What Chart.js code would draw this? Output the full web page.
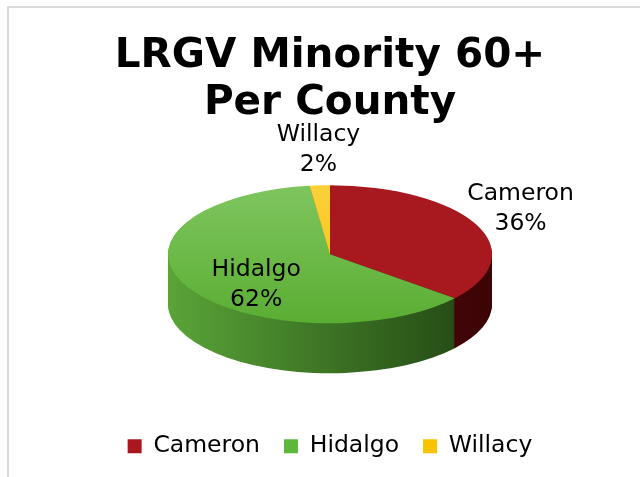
<!DOCTYPE html>
<html>
<head>
<meta charset="utf-8">
<script src="https://cdn.jsdelivr.net/npm/chart.js@4/dist/chart.umd.min.js"></script>
<style>
    html, body { margin: 0; padding: 0; background: #fff; overflow: hidden; }
    #frame {
        position: absolute; left: 7px; top: 6px; width: 640px; height: 480px;
        border-left: 2px solid #d9d9d9; border-top: 2px solid #d9d9d9;
    }
    #chartPie { position: absolute; left: 0; top: 0; }
</style>
</head>
<body>
<div id="frame"></div>
<canvas id="chartPie" width="640" height="477"></canvas>
<script>
// Data
const counties = ["Cameron", "Hidalgo", "Willacy"];
const shares = [36, 62, 2];

// Colors: top face, side wall, legend swatch
const topColors = [["#bb4649", "#a8191f"], ["#7fc55f", "#5aae33"], ["#fcd03a", "#f5c010"]];
const sideColors = [["#6c1013", "#3c0406"], ["#5aa437", "#1f4212"], ["#c99a08", "#8a6a02"]];
const legendColors = ["#a8181e", "#5cb83b", "#f8c300"];

// Flattened pie with an extruded wall underneath
const pie3d = {
    id: "pie3d",
    beforeDatasetsDraw(chart, args, opts) {
        const ctx = chart.ctx;
        const arcs = chart.getDatasetMeta(0).data;
        const { x, y, outerRadius: r } = arcs[0];
        const ty = y - opts.depth / 2;

        ctx.save();
        for (let d = opts.depth; d > 0; d--) {
            ctx.save();
            ctx.translate(x, ty + d);
            ctx.scale(1, opts.tilt);
            ctx.translate(-x, -y);
            arcs.forEach((arc, i) => {
                const g = ctx.createLinearGradient(x - r, 0, x + r, 0);
                g.addColorStop(0, sideColors[i][0]);
                g.addColorStop(1, sideColors[i][1]);
                ctx.beginPath();
                ctx.moveTo(x, y);
                ctx.arc(x, y, r, arc.startAngle, arc.endAngle);
                ctx.closePath();
                ctx.fillStyle = g;
                ctx.fill();
            });
            ctx.restore();
        }
        // top face is drawn by Chart.js inside this transform
        ctx.translate(x, ty);
        ctx.scale(1, opts.tilt);
        ctx.translate(-x, -y);
    },
    afterDatasetsDraw(chart) {
        chart.ctx.restore();
    },
    afterDraw(chart, args, opts) {
        const ctx = chart.ctx;
        const arcs = chart.getDatasetMeta(0).data;
        const { x, y, outerRadius: r } = arcs[0];
        const ty = y - opts.depth / 2;
        const values = chart.data.datasets[0].data;

        ctx.save();
        ctx.font = "23.5px 'DejaVu Sans'";
        ctx.fillStyle = "#000";
        ctx.textAlign = "center";
        ctx.textBaseline = "middle";
        arcs.forEach((arc, i) => {
            const mid = (arc.startAngle + arc.endAngle) / 2;
            const p = opts.labelPlace[i];
            const lx = x + Math.cos(mid) * r * p[0];
            const ly = ty + Math.sin(mid) * r * opts.tilt * p[1];
            ctx.fillText(chart.data.labels[i], lx, ly - 15);
            ctx.fillText(values[i] + "%", lx, ly + 15);
        });
        ctx.restore();
    }
};

new Chart(document.getElementById("chartPie"), {
    type: "pie",
    data: {
        labels: counties,
        datasets: [{
            data: shares,
            borderWidth: 0,
            clip: false,
            radius: 162,
            backgroundColor: ctx => {
                const chart = ctx.chart;
                const arc = chart.getDatasetMeta(0).data[0];
                if (!arc || !arc.outerRadius) return topColors[ctx.dataIndex][1];
                const g = chart.ctx.createLinearGradient(0, arc.y - arc.outerRadius, 0, arc.y + arc.outerRadius);
                g.addColorStop(0, topColors[ctx.dataIndex][0]);
                g.addColorStop(1, topColors[ctx.dataIndex][1]);
                return g;
            }
        }]
    },
    options: {
        responsive: false,
        animation: false,
        layout: { padding: { left: 20, bottom: 9 } },
        plugins: {
            title: {
                display: true,
                text: ["LRGV Minority 60+", "Per County"],
                color: "#000",
                font: { family: "'DejaVu Sans'", weight: "bold", size: 40.5, lineHeight: 1.16 },
                padding: { top: 33, bottom: 21 }
            },
            legend: {
                position: "bottom",
                labels: {
                    color: "#000",
                    boxWidth: 14,
                    boxHeight: 14,
                    padding: 24,
                    font: { family: "'DejaVu Sans'", size: 23.5 },
                    generateLabels: chart => chart.data.labels.map((name, i) => ({
                        text: name,
                        fillStyle: legendColors[i],
                        strokeStyle: legendColors[i],
                        lineWidth: 0,
                        index: i
                    }))
                }
            },
            tooltip: { enabled: false },
            pie3d: {
                depth: 50,
                tilt: 0.426,
                labelPlace: [[1.30, 1.53], [0.52, 0.92], [1.13, 1.52]]
            }
        }
    },
    plugins: [pie3d]
});
</script>
</body>
</html>
